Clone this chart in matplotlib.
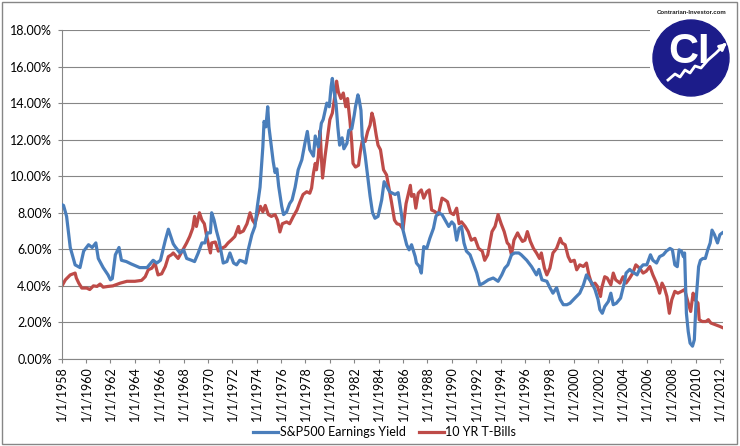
import numpy as np
from matplotlib import pyplot as plt
from matplotlib.patches import Rectangle, Circle

plt.rcParams['font.family'] = ['Lato', 'DejaVu Sans']

# S&P500 earnings yield (%)
sp_years = [1958.0, 1958.15, 1958.4, 1958.7, 1959.1, 1959.5, 1959.8, 1960.2, 1960.5, 1960.8,
            1961.0, 1961.4, 1961.8, 1962.0, 1962.15, 1962.4, 1962.7, 1962.9, 1963.3, 1963.7,
            1964.4, 1965.0, 1965.5, 1965.8, 1966.1, 1966.5, 1966.75, 1967.15, 1967.3, 1967.7,
            1968.0, 1968.25, 1968.65, 1968.9, 1969.2, 1969.5, 1969.75, 1969.95, 1970.2, 1970.3,
            1970.5, 1970.7, 1970.9, 1971.05, 1971.25, 1971.55, 1971.8, 1972.1, 1972.35, 1972.6,
            1972.9, 1973.1, 1973.3, 1973.6, 1973.85, 1974.05, 1974.27, 1974.5, 1974.6, 1974.75,
            1974.9, 1975.0, 1975.2, 1975.35, 1975.5, 1975.65, 1975.8, 1976.05, 1976.2, 1976.45,
            1976.7, 1976.9, 1977.15, 1977.4, 1977.7, 1977.95, 1978.15, 1978.35, 1978.65, 1978.8,
            1979.05, 1979.3, 1979.45, 1979.75, 1979.95, 1980.1, 1980.2, 1980.35, 1980.5, 1980.65,
            1980.8, 1981.0, 1981.15, 1981.4, 1981.55, 1981.8, 1982.0, 1982.1, 1982.3, 1982.4,
            1982.55, 1982.65, 1982.9, 1983.1, 1983.3, 1983.5, 1983.7, 1983.95, 1984.25, 1984.45,
            1984.65, 1984.9, 1985.35, 1985.6, 1985.9, 1986.0, 1986.3, 1986.5, 1986.7, 1987.0,
            1987.1, 1987.35, 1987.5, 1987.7, 1987.95, 1988.2, 1988.5, 1988.7, 1988.9, 1989.2,
            1989.45, 1989.75, 1990.0, 1990.2, 1990.4, 1990.6, 1990.8, 1991.0, 1991.2, 1991.5,
            1991.75, 1992.05, 1992.3, 1992.6, 1993.0, 1993.4, 1993.8, 1994.1, 1994.35, 1994.6,
            1994.9, 1995.15, 1995.5, 1995.7, 1996.15, 1996.55, 1996.95, 1997.15, 1997.4, 1997.8,
            1998.05, 1998.3, 1998.6, 1998.9, 1999.15, 1999.45, 1999.7, 2000.1, 2000.5, 2000.8,
            2001.05, 2001.2, 2001.5, 2001.75, 2002.0, 2002.15, 2002.35, 2002.55, 2002.85, 2003.05,
            2003.25, 2003.5, 2003.85, 2004.15, 2004.3, 2004.6, 2004.75, 2005.2, 2005.45, 2005.7,
            2006.0, 2006.3, 2006.5, 2006.8, 2007.05, 2007.35, 2007.6, 2007.9, 2008.1, 2008.3,
            2008.5, 2008.65, 2008.85, 2009.0, 2009.1, 2009.25, 2009.4, 2009.55, 2009.75, 2009.9,
            2010.05, 2010.25, 2010.4, 2010.6, 2010.8, 2011.0, 2011.2, 2011.35, 2011.55, 2011.8,
            2012.0, 2012.2]
sp_yield = [8.45, 8.4, 7.8, 6.1, 5.15, 5.0, 5.9, 6.25, 6.1, 6.35,
            5.5, 5.0, 4.6, 4.33, 4.4, 5.7, 6.1, 5.4, 5.33, 5.2,
            5.0, 5.0, 5.4, 5.25, 5.4, 6.5, 7.1, 6.3, 6.15, 5.8,
            5.97, 5.5, 5.4, 5.33, 5.8, 6.35, 6.35, 6.9, 6.9, 8.0,
            7.6, 7.0, 6.5, 5.97, 5.25, 5.33, 5.8, 5.25, 5.15, 5.4,
            5.33, 5.25, 5.97, 6.8, 7.25, 8.35, 9.4, 11.6, 13.0, 12.7,
            13.8, 12.7, 11.6, 10.8, 10.2, 10.4, 9.45, 8.35, 7.9, 8.05,
            8.5, 8.7, 9.4, 10.35, 10.9, 11.8, 12.45, 11.45, 11.1, 12.2,
            11.6, 12.9, 13.1, 14.0, 13.8, 14.9, 15.35, 14.6, 14.0, 12.7,
            11.7, 12.1, 11.5, 11.8, 12.5, 12.6, 13.35, 13.8, 14.45, 14.2,
            13.6, 12.2, 11.1, 10.0, 8.9, 8.0, 7.7, 7.8, 8.7, 9.7,
            9.45, 9.15, 9.0, 9.1, 7.8, 7.05, 6.25, 5.97, 6.25, 5.6,
            5.25, 5.05, 4.7, 6.15, 6.05, 6.6, 7.15, 7.8, 8.0, 7.9,
            7.6, 7.25, 7.5, 7.35, 6.5, 7.15, 7.25, 6.35, 5.9, 5.7,
            5.25, 4.7, 4.05, 4.15, 4.33, 4.43, 4.25, 4.6, 4.97, 5.15,
            5.7, 5.8, 5.8, 5.7, 5.4, 5.05, 4.6, 4.9, 4.33, 4.25,
            3.9, 3.6, 3.9, 3.25, 2.97, 2.97, 3.05, 3.33, 3.6, 4.05,
            4.6, 4.43, 4.15, 3.8, 3.25, 2.7, 2.5, 2.87, 3.15, 3.6,
            2.97, 3.05, 3.33, 4.15, 4.7, 4.9, 4.8, 4.6, 4.97, 5.15,
            5.15, 5.7, 5.4, 5.25, 5.6, 5.7, 5.9, 6.05, 5.97, 5.15,
            5.05, 5.97, 5.9, 5.6, 5.8, 2.5, 1.5, 0.87, 0.7, 1.05,
            3.25, 5.05, 5.4, 5.5, 5.5, 5.97, 6.35, 7.05, 6.8, 6.35,
            6.8, 6.9]

# 10 YR T-Bills (%)
tb_years = [1958.0, 1958.3, 1958.7, 1959.1, 1959.2, 1959.4, 1959.65, 1960.05, 1960.3, 1960.6,
            1960.9, 1961.15, 1961.4, 1961.8, 1962.2, 1962.8, 1963.35, 1964.0, 1964.55, 1964.85,
            1965.1, 1965.4, 1965.65, 1965.9, 1966.2, 1966.5, 1966.75, 1967.0, 1967.15, 1967.55,
            1968.0, 1968.25, 1968.5, 1968.75, 1968.9, 1969.05, 1969.3, 1969.5, 1969.7, 1969.9,
            1970.2, 1970.3, 1970.6, 1970.85, 1971.1, 1971.4, 1971.65, 1971.9, 1972.2, 1972.5,
            1972.6, 1972.9, 1973.2, 1973.45, 1973.65, 1973.85, 1974.05, 1974.3, 1974.5, 1974.7,
            1974.95, 1975.2, 1975.5, 1975.7, 1975.9, 1976.1, 1976.45, 1976.7, 1977.0, 1977.3,
            1977.55, 1977.8, 1978.1, 1978.35, 1978.5, 1978.65, 1978.8, 1978.9, 1979.05, 1979.2,
            1979.3, 1979.4, 1979.6, 1979.8, 1980.0, 1980.2, 1980.4, 1980.55, 1980.7, 1980.9,
            1981.1, 1981.3, 1981.45, 1981.65, 1981.8, 1981.9, 1982.1, 1982.35, 1982.5, 1982.65,
            1982.9, 1983.1, 1983.3, 1983.45, 1983.6, 1983.8, 1983.95, 1984.15, 1984.4, 1984.65,
            1984.85, 1985.05, 1985.3, 1985.5, 1985.75, 1986.0, 1986.25, 1986.45, 1986.6, 1986.7,
            1986.9, 1987.05, 1987.25, 1987.5, 1987.7, 1987.95, 1988.15, 1988.35, 1988.6, 1988.9,
            1989.2, 1989.45, 1989.65, 1989.9, 1990.15, 1990.4, 1990.6, 1990.8, 1991.1, 1991.35,
            1991.6, 1991.9, 1992.2, 1992.5, 1992.7, 1992.95, 1993.3, 1993.55, 1993.8, 1994.05,
            1994.3, 1994.55, 1994.7, 1994.9, 1995.1, 1995.4, 1995.55, 1995.8, 1996.0, 1996.2,
            1996.45, 1996.7, 1996.95, 1997.2, 1997.35, 1997.6, 1997.8, 1998.05, 1998.3, 1998.6,
            1998.9, 1999.05, 1999.3, 1999.55, 1999.75, 2000.05, 2000.25, 2000.5, 2000.8, 2001.05,
            2001.25, 2001.5, 2001.75, 2001.95, 2002.2, 2002.3, 2002.55, 2002.75, 2003.05, 2003.25,
            2003.45, 2003.8, 2004.05, 2004.3, 2004.6, 2004.85, 2005.1, 2005.4, 2005.7, 2005.95,
            2006.25, 2006.5, 2006.8, 2007.05, 2007.25, 2007.45, 2007.65, 2007.85, 2008.05, 2008.3,
            2008.55, 2008.85, 2009.1, 2009.4, 2009.6, 2009.8, 2009.95, 2010.2, 2010.3, 2010.55,
            2010.85, 2011.05, 2011.25, 2011.65, 2012.0, 2012.2]
tb_yield = [3.97, 4.33, 4.6, 4.7, 4.43, 4.15, 3.88, 3.88, 3.8, 4.0,
            3.97, 4.1, 3.93, 3.97, 4.0, 4.15, 4.25, 4.25, 4.3, 4.5,
            4.88, 4.97, 5.25, 4.6, 4.66, 5.06, 5.6, 5.7, 5.8, 5.5,
            6.05, 6.35, 6.7, 7.15, 7.8, 7.25, 8.0, 7.6, 7.4, 6.7,
            5.8, 6.35, 6.4, 5.9, 6.05, 6.15, 6.35, 6.5, 6.7, 7.25,
            6.9, 7.0, 7.4, 8.0, 7.6, 7.4, 7.9, 8.35, 8.05, 8.4,
            7.9, 7.8, 7.9, 7.6, 6.95, 7.4, 7.5, 7.4, 7.8, 8.15,
            8.6, 9.0, 9.15, 9.07, 9.35, 10.15, 10.7, 10.35, 11.07, 12.5,
            11.07, 9.9, 11.07, 12.1, 13.1, 13.45, 14.35, 15.2, 14.6, 14.25,
            14.55, 13.8, 14.25, 13.0, 11.8, 10.7, 10.5, 10.6, 11.35, 11.9,
            11.9, 12.45, 12.8, 13.45, 13.1, 12.25, 11.7, 11.45, 10.35, 10.07,
            9.35, 8.6, 7.6, 7.4, 7.35, 7.1, 8.5, 9.07, 9.5, 8.9,
            9.0, 8.25, 9.07, 9.25, 8.8, 9.15, 9.25, 8.15, 8.07, 7.9,
            8.8, 8.7, 8.6, 8.0, 7.9, 8.25, 7.4, 7.5, 7.25, 6.97,
            6.5, 6.6, 6.05, 5.9, 5.4, 5.7, 6.97, 7.25, 7.9, 7.4,
            6.97, 6.35, 6.25, 5.7, 6.5, 6.9, 6.7, 6.43, 6.5, 6.97,
            6.43, 6.05, 5.8, 5.5, 5.8, 4.97, 4.6, 4.97, 5.8, 6.05,
            6.6, 6.35, 6.25, 5.6, 5.33, 5.4, 4.88, 5.15, 5.06, 5.25,
            4.6, 4.06, 4.15, 3.97, 3.42, 3.88, 4.5, 4.43, 4.06, 4.7,
            4.33, 4.15, 4.5, 4.15, 4.43, 4.7, 5.15, 4.97, 4.7, 4.8,
            5.06, 4.6, 4.15, 3.6, 4.15, 3.88, 3.42, 2.5, 3.24, 3.7,
            3.6, 3.7, 3.8, 3.06, 2.6, 3.6, 3.24, 3.06, 2.15, 2.05,
            2.05, 2.15, 1.97, 1.87, 1.78, 1.72]

tick_years = list(range(1958, 2013, 2))
tick_labels = ["1/1/%d" % y for y in tick_years]
y_ticks = [0, 2, 4, 6, 8, 10, 12, 14, 16, 18]

grey = "#868686"

fig = plt.figure(figsize=(7.4, 4.46), dpi=100)
ax = fig.add_axes([0.0834, 0.1951, 0.8936, 0.7377])

l1, = ax.plot(sp_years, sp_yield, color="#4A7EBB", lw=2.3, label="S&P500 Earnings Yield", zorder=3)
l2, = ax.plot(tb_years, tb_yield, color="#BE4B48", lw=2.3, label="10 YR T-Bills", zorder=2)

ax.set_xlim(1958, 2012.25)
ax.set_ylim(0, 18)
ax.set_yticks(y_ticks)
ax.set_yticklabels(["%.2f%%" % v for v in y_ticks], fontsize=9)
ax.set_xticks(tick_years)
ax.set_xticklabels(tick_labels, rotation=90, fontsize=9)
ax.yaxis.grid(True, color=grey, lw=0.8)
ax.set_axisbelow(True)
for s in ["top", "right"]:
    ax.spines[s].set_visible(False)
for s in ["left", "bottom"]:
    ax.spines[s].set_color(grey)
    ax.spines[s].set_linewidth(0.8)
ax.tick_params(axis="both", direction="out", length=3, width=0.8, color=grey, pad=2)
ax.tick_params(axis="y", pad=4)

fig.legend(handles=[l1, l2], loc="center", bbox_to_anchor=(0.52, 1 - 432 / 446), ncol=2,
           frameon=False, fontsize=9, handlelength=2.0, handletextpad=0.15, columnspacing=1.0)

# chart border
fig.patches.append(Rectangle((2 / 740, 2 / 446), 735 / 740, 442 / 446, transform=fig.transFigure,
                             fill=False, edgecolor=grey, lw=1))

# logo
lx = fig.add_axes([650 / 740, 1 - 100 / 446, 86 / 740, 95 / 446])
lx.set_xlim(650, 736)
lx.set_ylim(100, 5)
lx.axis("off")
lx.add_patch(Rectangle((650, 5), 86, 95, color="white", zorder=0))
lx.add_patch(Circle((691, 58), 38, color="#1c1c8a", zorder=1))
lx.text(692, 13, "Contrarian-Investor.com", fontsize=4.3, fontweight="bold", color="#222222",
        ha="center", va="center", family="Liberation Sans")
lx.text(689, 52, "CI", fontsize=30, fontweight="bold", color="white", ha="center", va="center",
        family="Liberation Sans")
zx = [668, 675, 680, 685, 690, 695, 701, 708, 716, 724]
zy = [80, 74, 77, 70, 73, 66, 68, 60, 53, 45]
lx.plot(zx, zy, color="white", lw=2, zorder=3)
lx.annotate("", xy=(729, 41), xytext=(722, 47),
            arrowprops=dict(arrowstyle="-|>", color="white", lw=2, mutation_scale=10), zorder=3)

fig.savefig("out.png", dpi=100)
